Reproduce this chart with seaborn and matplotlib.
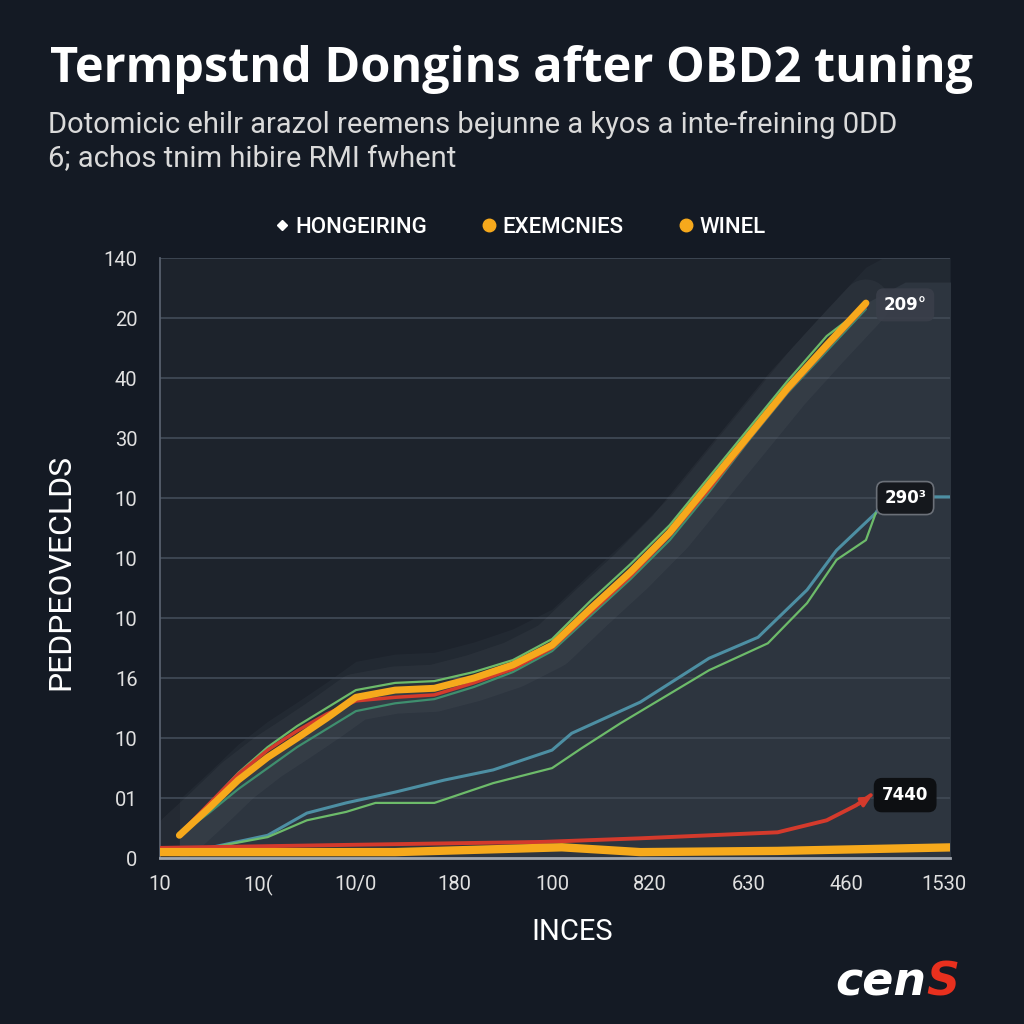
import numpy as np
import pandas as pd
import matplotlib.pyplot as plt
import seaborn as sns
from matplotlib.lines import Line2D

# values (x in tick steps, y in gridline steps)
x_top = [0.2, 0.5, 0.8, 1.1, 1.4, 1.7, 2.0, 2.4, 2.8, 3.2, 3.6, 4.0, 4.4, 4.8, 5.2, 5.6, 6.0, 6.4, 6.8, 7.2]
orange_top = [0.38, 0.83, 1.30, 1.68, 2.00, 2.33, 2.68, 2.80, 2.83, 3.00, 3.22, 3.55, 4.17, 4.77, 5.43, 6.23, 7.03, 7.83, 8.55, 9.25]
red_top = [0.40, 0.90, 1.40, 1.80, 2.12, 2.40, 2.62, 2.68, 2.72, 2.92, 3.15, 3.50, 4.10, 4.70, 5.38, 6.15, 6.98, 7.78, 8.50, 9.20]
green_top = [0.40, 0.90, 1.42, 1.85, 2.20, 2.50, 2.80, 2.92, 2.95, 3.10, 3.30, 3.65, 4.30, 4.90, 5.55, 6.35, 7.15, 7.95, 8.70, 9.20]
green_top2 = [0.38, 0.75, 1.15, 1.50, 1.85, 2.15, 2.45, 2.58, 2.65, 2.85, 3.10, 3.45, 4.05, 4.65, 5.30, 6.10, 6.95, 7.75, 8.45, 9.15]

x_teal = [0.0, 0.5, 1.1, 1.5, 1.9, 2.4, 2.9, 3.4, 4.0, 4.2, 4.9, 5.6, 6.1, 6.6, 6.9, 7.3, 7.4, 8.1]
teal_mid = [0.17, 0.17, 0.38, 0.75, 0.92, 1.10, 1.30, 1.47, 1.80, 2.08, 2.60, 3.33, 3.68, 4.47, 5.13, 5.75, 6.02, 6.02]

x_green = [0.5, 1.1, 1.5, 1.9, 2.2, 2.8, 3.4, 4.0, 4.3, 4.7, 5.6, 6.2, 6.6, 6.9, 7.2, 7.3]
green_mid = [0.17, 0.35, 0.63, 0.77, 0.92, 0.92, 1.25, 1.50, 1.83, 2.25, 3.13, 3.58, 4.25, 4.97, 5.30, 5.75]

x_low = [0.0, 1.9, 3.9, 4.9, 6.3, 6.8, 7.1, 7.25]
red_low = [0.17, 0.22, 0.27, 0.33, 0.43, 0.63, 0.88, 1.05]

x_flat = [0.0, 2.4, 4.1, 4.9, 6.3, 8.1]
orange_low = [0.10, 0.10, 0.18, 0.10, 0.12, 0.18]

y_tick_labels = ["0", "01", "10", "16", "10", "10", "10", "30", "40", "20", "140"]
x_tick_labels = ["10", "10(", "10/0", "180", "100", "820", "630", "460", "1530"]
legend_labels = ["HONGEIRING", "EXEMCNIES", "WINEL"]
badge_labels = ["209°", "290³", "7440"]
badge_y = [9.22, 6.0, 1.05]

BG = "#141a24"
PANEL = "#1d232c"
SHADE = "#2d353f"
ORANGE = "#f6a91c"
RED = "#d43a2c"
GREEN = "#6dbb6a"
TEAL = "#4d8fa3"

sns.set_theme(style="dark")
plt.rcParams["font.family"] = ["Roboto", "DejaVu Sans"]

fig = plt.figure(figsize=(10.24, 10.24), dpi=100, facecolor=BG)
ax = fig.add_axes([0.156, 0.162, 0.772, 0.586])
ax.set_facecolor(PANEL)

# lighter shade under the upper curves
fx = x_top + [7.6, 8.1]
fy = orange_top + [9.6, 9.6]
ax.fill_between(fx, fy, 0, color=SHADE, lw=0, zorder=0)
ax.fill_between(fx, np.array(fy) + 0.6, 0, color=SHADE, alpha=0.35, lw=0, zorder=0)

for yy in range(11):
    ax.axhline(yy, color="#3f4854", lw=1.3, zorder=1)

# soft glow round the top bundle
sns.lineplot(x=x_top, y=orange_top, ax=ax, color="white", lw=34, alpha=0.035, zorder=2)

sns.lineplot(x=x_teal, y=teal_mid, ax=ax, color=TEAL, lw=2.2, zorder=3)
sns.lineplot(x=x_green, y=green_mid, ax=ax, color=GREEN, lw=1.6, zorder=3)
sns.lineplot(x=x_top, y=green_top2, ax=ax, color="#3f8f6e", lw=1.6, zorder=3)
sns.lineplot(x=x_top, y=green_top, ax=ax, color=GREEN, lw=1.6, zorder=3)
sns.lineplot(x=x_top, y=red_top, ax=ax, color=RED, lw=2.5, zorder=4)
sns.lineplot(x=x_top, y=orange_top, ax=ax, color=ORANGE, lw=5, zorder=5)
sns.lineplot(x=x_low, y=red_low, ax=ax, color=RED, lw=2.8, zorder=4)
sns.lineplot(x=x_flat, y=orange_low, ax=ax, color=ORANGE, lw=6, zorder=5)

ax.annotate("", xy=(x_low[-1] + 0.03, red_low[-1]), xytext=(x_low[-2], red_low[-2]),
            arrowprops=dict(arrowstyle="-|>", color=RED, lw=2.5, mutation_scale=14), zorder=6)

box_styles = [
    dict(boxstyle="round,pad=0.45", fc="#3a3f4a", ec="none", alpha=0.9),
    dict(boxstyle="round,pad=0.45", fc="#15181d", ec="#6b7078", lw=1.2),
    dict(boxstyle="round,pad=0.45", fc="#0d0f12", ec="#0d0f12"),
]
for lab, yy, st in zip(badge_labels, badge_y, box_styles):
    ax.text(7.6, yy, lab, color="white", fontsize=12, fontweight="bold",
            ha="center", va="center", bbox=st, zorder=7, family=["DejaVu Sans"])

ax.set_xlim(0, 8.06)
ax.set_ylim(0, 10)
ax.set_xticks(range(9))
ax.set_xticklabels(x_tick_labels)
ax.set_yticks(range(11))
ax.set_yticklabels(y_tick_labels)
ax.tick_params(axis="both", colors="#e0e0e0", labelsize=14.5, length=0)
ax.tick_params(axis="y", pad=16)
ax.tick_params(axis="x", pad=12)
for s in ["top", "right"]:
    ax.spines[s].set_visible(False)
ax.spines["left"].set_color("#5a6270")
ax.spines["bottom"].set_color("#a0a6ae")
ax.spines["bottom"].set_linewidth(2)

ax.set_xlabel("INCES", color="white", fontsize=21, labelpad=16, x=0.522)
ax.set_ylabel("PEDPEOVECLDS", color="white", fontsize=23, labelpad=20, y=0.477)

fig.text(0.5, 0.932, "Termpstnd Dongins after OBD2 tuning", color="white",
         fontsize=35, fontweight="bold", ha="center", va="center", family=["Open Sans", "DejaVu Sans"])
fig.text(0.047, 0.878, "Dotomicic ehilr arazol reemens bejunne a kyos a inte-freining 0DD",
         color="#dadada", fontsize=21, ha="left", va="center")
fig.text(0.047, 0.845, "6; achos tnim hibire RMI fwhent",
         color="#dadada", fontsize=21, ha="left", va="center")

handles = [
    Line2D([], [], ls="none", marker="D", markersize=5, color="white"),
    Line2D([], [], ls="none", marker="o", markersize=9, color=ORANGE),
    Line2D([], [], ls="none", marker="o", markersize=9, color=ORANGE),
]
leg = fig.legend(handles, legend_labels, loc="center", bbox_to_anchor=(0.505, 0.778), ncol=3,
                 frameon=False, fontsize=16, handletextpad=0.0, columnspacing=2.2,
                 handlelength=1.2, prop={"weight": "medium", "size": 16})
for t in leg.get_texts():
    t.set_color("white")

fig.text(0.905, 0.04, "cen", color="white", fontsize=33, fontweight="heavy",
         fontstyle="italic", ha="right", va="center", family=["DejaVu Sans"])
fig.text(0.905, 0.04, "S", color="#e8301e", fontsize=33, fontweight="heavy",
         fontstyle="italic", ha="left", va="center", family=["DejaVu Sans"])

fig.savefig("out.png", dpi=100, facecolor=BG)
